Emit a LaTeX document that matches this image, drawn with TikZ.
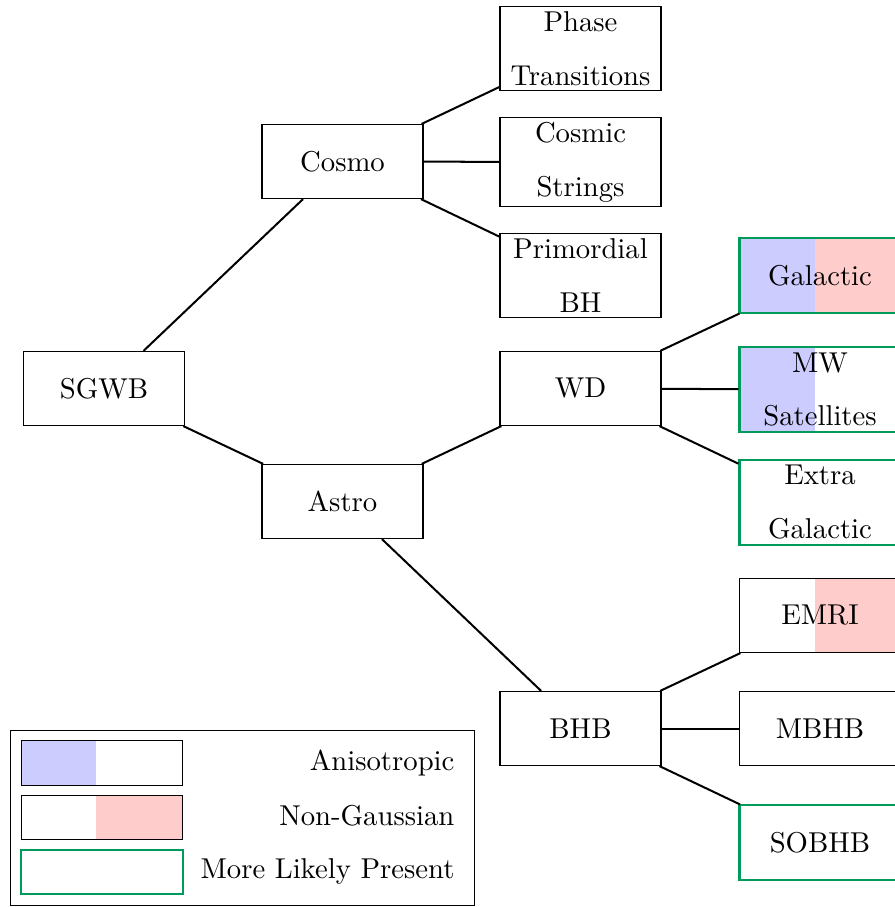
\documentclass[tikz,border=0pt]{standalone}
\usetikzlibrary{calc}
\definecolor{likely}{RGB}{0,155,90}
\begin{document}
\begin{tikzpicture}[x=0.3484pt,y=-0.3484pt,
  box/.style={draw, line width=0.4pt, minimum width=56.1pt, minimum height=25.8pt,
    inner sep=1pt, align=center, font=\fontsize{10}{12}\selectfont},
  likelybox/.style={box, draw=likely, line width=0.7pt},
  aniso/.style={path picture={\fill[blue!20] (path picture bounding box.south west) rectangle ([xshift=26.13pt]path picture bounding box.north west);}},
  nongauss/.style={path picture={\fill[red!20] ([xshift=26.13pt]path picture bounding box.south west) rectangle (path picture bounding box.north east);}},
  both/.style={path picture={\fill[blue!20] (path picture bounding box.south west) rectangle ([xshift=26.13pt]path picture bounding box.north west);
      \fill[red!20] ([xshift=26.13pt]path picture bounding box.south west) rectangle (path picture bounding box.north east);}},
  conn/.style={line width=0.7pt},
  legtext/.style={anchor=base east, inner sep=0pt, font=\fontsize{10}{12}\selectfont}
]
\useasboundingbox (0,0) rectangle (894,907);

\node[box] (sgwb) at (104,388.5) {SGWB};
\node[box] (cosmo) at (342.5,161.5) {Cosmo};
\node[box] (astro) at (342.5,501.5) {Astro};

\node[box, minimum height=29.3pt] (phase) at (580.5,48.5) {Phase\\[6.8pt]Transitions};
\node[box, minimum height=31pt] (strings) at (580.5,162) {Cosmic\\[6.8pt]Strings};
\node[box, minimum height=29.3pt] (pbh) at (580.5,275.5) {Primordial\\[6.8pt]BH};
\node[box] (wd) at (580.5,388.5) {WD};
\node[box] (bhb) at (580.5,728.5) {BHB};

\node[likelybox, both] (gal) at (820,275.5) {Galactic};
\node[likelybox, aniso, minimum height=29.3pt] (mw) at (820,389.5) {MW\\[6.8pt]Satellites};
\node[likelybox, minimum height=29.3pt] (extra) at (820,502.5) {Extra\\[6.8pt]Galactic};
\node[box, nongauss] (emri) at (820,615.5) {EMRI};
\node[box] (mbhb) at (820,728.5) {MBHB};
\node[likelybox] (sobhb) at (820,842.5) {SOBHB};

\draw[conn] (sgwb) -- (cosmo);
\draw[conn] (sgwb) -- (astro);
\draw[conn] (cosmo) -- (phase);
\draw[conn] (cosmo) -- (strings);
\draw[conn] (cosmo) -- (pbh);
\draw[conn] (astro) -- (wd);
\draw[conn] (astro) -- (bhb);
\draw[conn] (wd) -- (gal);
\draw[conn] (wd) -- (mw);
\draw[conn] (wd) -- (extra);
\draw[conn] (bhb) -- (emri);
\draw[conn] (bhb) -- (mbhb);
\draw[conn] (bhb) -- (sobhb);

% legend
\node[draw, line width=0.4pt, minimum width=161.6pt, minimum height=61pt, inner sep=0pt] (legend) at (242.5,818) {};
\node[box, aniso, minimum height=15.6pt] (lega) at (102,763) {};
\node[box, nongauss, minimum height=15.6pt] (legn) at (102,817.5) {};
\node[likelybox, minimum height=15.6pt] (legl) at (102,872) {};
\node[legtext] (ta) at (455,770) {Anisotropic};
\node[legtext] (tn) at (455,825) {Non-Gaussian};
\node[legtext] (tl) at (455,878) {More Likely Present};
\end{tikzpicture}
\end{document}
